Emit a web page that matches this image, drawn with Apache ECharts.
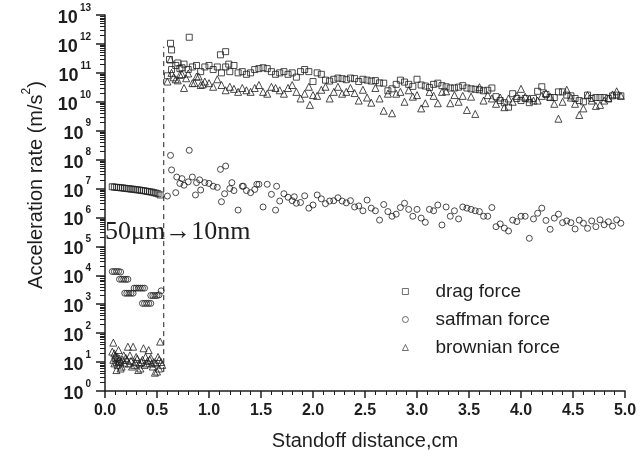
<!DOCTYPE html>
<html>
<head>
<meta charset="utf-8">
<script src="https://cdn.jsdelivr.net/npm/echarts@6/dist/echarts.min.js"></script>
<style>
html,body{margin:0;padding:0;background:#fff;}
#chart{width:644px;height:457px;}
</style>
</head>
<body>
<div id="chart"></div>
<script>
// standoff distance (cm) for the run after the size change
var rightX = [
  0.60,0.64,0.68,0.72,0.76,0.80,0.84,0.88,0.92,0.96,
  1.00,1.04,1.08,1.12,1.16,1.20,1.24,1.28,1.32,1.36,
  1.40,1.44,1.48,1.52,1.56,1.60,1.64,1.68,1.72,1.76,
  1.80,1.84,1.88,1.92,1.96,2.00,2.04,2.08,2.12,2.16,
  2.20,2.24,2.28,2.32,2.36,2.40,2.44,2.48,2.52,2.56,
  2.60,2.64,2.68,2.72,2.76,2.80,2.84,2.88,2.92,2.96,
  3.00,3.04,3.08,3.12,3.16,3.20,3.24,3.28,3.32,3.36,
  3.40,3.44,3.48,3.52,3.56,3.60,3.64,3.68,3.72,3.76,
  3.80,3.84,3.88,3.92,3.96,4.00,4.04,4.08,4.12,4.16,
  4.20,4.24,4.28,4.32,4.36,4.40,4.44,4.48,4.52,4.56,
  4.60,4.64,4.68,4.72,4.76,4.80,4.84,4.88,4.92,4.96
];
var dragRight = [
  7.9e10,1.3e11,1.8e11,1.4e11,2.0e11,1.3e11,1.6e11,1.8e11,1.1e11,1.6e11,
  1.8e11,1.3e11,1.6e11,1.0e11,1.6e11,1.1e11,1.8e11,1.0e11,1.1e11,8.9e10,
  1.0e11,1.3e11,1.4e11,1.5e11,1.4e11,1.1e11,8.9e10,1.0e11,1.1e11,8.9e10,
  1.0e11,7.1e10,1.1e11,1.3e11,1.1e11,5.0e10,1.0e11,8.9e10,5.6e10,5.2e10,
  6.0e10,6.6e10,6.3e10,5.8e10,6.6e10,6.3e10,5.0e10,6.0e10,5.6e10,5.2e10,
  5.4e10,4.5e10,4.4e10,2.4e10,2.8e10,4.0e10,5.6e10,4.8e10,4.0e10,3.4e10,
  6.0e10,3.8e10,3.5e10,3.1e10,4.0e10,4.4e10,3.6e10,3.3e10,3.0e10,3.0e10,
  3.2e10,3.6e10,3.0e10,2.8e10,2.7e10,2.6e10,2.4e10,2.5e10,3.0e10,1.5e10,
  1.1e10,9.3e9,6.5e9,1.9e10,1.3e10,1.1e10,1.3e10,9.3e9,1.3e10,2.3e10,
  3.3e10,1.8e10,1.4e10,1.4e10,2.2e10,2.2e10,1.7e10,1.6e10,1.3e10,1.1e10,
  1.0e10,1.7e10,1.3e10,1.4e10,1.4e10,1.4e10,1.3e10,1.6e10,1.7e10,1.6e10
];
var saffmanRight = [
  5.5e6,4.4e7,7.2e6,1.5e7,1.3e7,1.7e7,2.5e7,1.6e7,8.9e6,1.6e7,
  1.5e7,1.2e7,1.1e7,3.5e6,6.0e7,1.0e7,8.5e6,1.8e6,1.2e7,8.5e6,
  7.2e6,9.3e6,1.4e7,2.3e6,1.4e7,6.3e6,1.8e6,3.7e6,6.6e6,5.0e6,
  3.8e6,3.1e6,3.3e6,5.6e6,2.1e6,2.7e6,6.0e6,4.4e6,3.0e6,3.7e6,
  3.8e6,4.8e6,3.7e6,3.2e6,3.8e6,2.3e6,2.5e6,1.7e6,4.0e6,2.1e6,
  1.7e6,8.1e5,2.8e6,1.6e6,1.1e6,1.3e6,2.2e6,3.1e6,1.9e6,1.1e6,
  1.9e6,9.5e5,6.8e5,1.9e6,1.7e6,2.7e6,5.5e5,2.3e6,1.1e6,1.7e6,
  8.9e5,2.3e6,2.1e6,1.9e6,1.7e6,1.6e6,1.1e6,1.1e6,2.2e6,4.8e5,
  6.0e5,4.3e5,3.4e5,8.1e5,7.2e5,1.1e6,1.1e6,1.9e5,8.9e5,1.4e6,
  2.1e6,7.9e5,3.9e5,9.5e5,1.3e6,6.6e5,7.6e5,6.6e5,4.0e5,8.1e5,
  6.3e5,4.2e5,7.6e5,4.8e5,8.3e5,5.6e5,7.1e5,5.0e5,8.3e5,6.3e5
];
var brownianRight = [
  5.0e10,1.0e11,6.0e10,8.5e10,3.0e10,9.5e10,4.4e10,7.4e10,3.8e10,5.0e10,
  4.4e10,3.3e10,6.0e10,3.8e10,2.5e10,3.3e10,2.8e10,2.2e10,3.0e10,2.5e10,
  2.2e10,3.0e10,3.8e10,2.2e10,1.9e10,3.3e10,3.0e10,2.5e10,1.9e10,3.0e10,
  3.8e10,2.2e10,1.3e10,1.9e10,3.3e10,1.7e10,1.6e10,2.6e10,3.3e10,1.3e10,
  2.2e10,3.3e10,1.9e10,2.2e10,3.0e10,2.0e10,1.1e10,2.6e10,1.4e10,9.3e9,
  3.0e10,1.3e10,4.9e9,1.9e10,4.0e9,1.9e10,2.2e10,1.0e10,2.5e10,1.5e10,
  1.7e10,5.9e9,8.9e9,2.2e10,1.6e10,8.9e9,2.2e10,2.3e10,8.9e9,1.7e10,
  1.0e10,1.6e10,5.2e9,1.5e10,3.8e9,3.2e10,1.1e10,1.7e10,1.3e10,8.5e9,
  1.4e10,6.5e9,1.3e10,1.0e10,1.6e10,2.8e10,1.5e10,1.3e10,1.1e10,1.1e10,
  1.6e10,2.0e10,1.5e10,8.5e9,2.6e9,1.0e10,2.6e10,1.4e10,8.5e9,3.5e9,
  5.9e9,1.7e10,1.1e10,7.2e9,7.8e9,1.1e10,1.3e10,1.8e10,2.3e10,1.6e10
];
// scattered points just after the dashed line
var dragExtra = [[0.63,1.05e12],[0.64,6.2e11],[0.62,2.9e11],[0.81,1.7e12],[1.11,4.2e11],[1.16,5.4e11],[1.19,2.0e11],[0.70,2.2e11],[0.74,1.5e11]];
var saffmanExtra = [[0.63,1.4e8],[0.81,2.1e8],[1.11,4.6e7],[0.69,2.5e7],[0.74,2.2e7],[0.87,6.0e6],[0.91,2.0e7],[1.15,6.6e6],[1.22,1.6e7],[1.33,1.2e7],[1.46,1.4e7],[1.65,1.2e7],[1.82,5.2e6]];
var brownianExtra = [[0.63,2.9e11],[0.66,7.0e10],[0.70,5.5e10],[0.74,9.0e10],[0.78,6.5e10],[0.86,4.5e10],[0.90,7.5e10],[0.94,4.0e10],[1.97,7.8e9]];
// 50 um particles, before the dashed line
var dragLeft = [[0.07,1.15e7],[0.09,1.12e7],[0.11,1.10e7],[0.13,1.09e7],[0.15,1.06e7],[0.17,1.05e7],[0.19,1.02e7],[0.21,1.0e7],[0.23,9.8e6],[0.25,9.6e6],[0.27,9.5e6],[0.29,9.2e6],[0.31,9.0e6],[0.33,8.9e6],[0.35,8.6e6],[0.37,8.4e6],[0.39,8.2e6],[0.41,7.9e6],[0.43,7.7e6],[0.45,7.5e6],[0.47,7.2e6],[0.49,6.9e6],[0.51,6.6e6],[0.53,6.0e6]];
var saffmanLeft = [
  [0.07,1.35e4],[0.09,1.35e4],[0.11,1.35e4],[0.13,1.35e4],[0.15,1.3e4],
  [0.14,7.3e3],[0.16,7.3e3],[0.18,7.3e3],[0.20,7.2e3],[0.22,7.3e3],
  [0.19,2.4e3],[0.21,2.4e3],[0.23,2.4e3],[0.25,2.4e3],[0.27,2.4e3],
  [0.28,3.6e3],[0.30,3.6e3],[0.32,3.6e3],[0.34,3.6e3],[0.36,3.6e3],[0.38,3.6e3],
  [0.36,1.07e3],[0.38,1.07e3],[0.40,1.07e3],[0.42,1.07e3],[0.44,1.07e3],
  [0.44,2.0e3],[0.46,2.0e3],[0.48,2.0e3],[0.50,2.0e3],[0.52,2.1e3],
  [0.54,2.9e3]
];
var brownianLeft = [
  [0.08,47],[0.07,23],[0.10,17],[0.11,10],[0.11,5.3],[0.13,26],[0.14,13],[0.16,7],[0.18,17],[0.19,9],
  [0.21,12],[0.22,34],[0.24,17],[0.26,7],[0.27,34],[0.29,10],[0.30,15],[0.32,5.3],[0.34,6],[0.35,10],
  [0.37,30],[0.39,15],[0.40,9],[0.42,26],[0.43,12],[0.45,9],[0.47,10],[0.48,4.3],[0.50,4.7],[0.51,15],
  [0.53,51],[0.54,10],[0.08,12],[0.09,9],[0.10,14],[0.12,8],[0.13,11],[0.15,10],[0.17,12],[0.20,14],
  [0.23,9],[0.25,11],[0.28,8],[0.31,13],[0.33,9],[0.36,12],[0.38,8],[0.41,11],[0.44,14],[0.46,7],
  [0.49,9],[0.52,12],[0.55,8],[0.09,20],[0.12,15],[0.15,6],[0.52,6]
];
var dashLine = [[0.565,4.5],[0.565,8e11]];
var legendNames = ['drag force','saffman force','brownian force'];

var ink = '#1e1e1e';
var sans = '"Liberation Sans", Arial, sans-serif';

function pairs(xs, ys){
  var out = [];
  for (var i = 0; i < xs.length; i++) out.push([xs[i], ys[i]]);
  return out;
}
function dots(name, symbol, size, data){
  return {
    name: name, type: 'scatter', symbol: symbol, symbolSize: size, data: data,
    itemStyle: {color: 'rgba(255,255,255,0)', borderColor: ink, borderWidth: 1},
    emphasis: {disabled: true}
  };
}

var chart = echarts.init(document.getElementById('chart'), null, {renderer: 'canvas'});
chart.setOption({
  animation: false,
  backgroundColor: '#fff',
  grid: {left: 105, right: 19, top: 15, bottom: 66},
  legend: {
    data: legendNames, orient: 'vertical', left: 397, top: 277,
    itemWidth: 6, itemHeight: 6, itemGap: 9,
    itemStyle: {borderWidth: 0.8},
    textStyle: {fontSize: 19, color: ink, fontFamily: sans, padding: [0,0,0,22]}
  },
  xAxis: {
    type: 'value', min: 0, max: 5, interval: 0.5,
    axisLine: {show: true, onZero: false, lineStyle: {color: ink, width: 1.5}},
    axisTick: {show: true, length: 7, lineStyle: {color: ink, width: 1.5}},
    minorTick: {show: true, splitNumber: 5, length: 4, lineStyle: {color: ink, width: 1}},
    splitLine: {show: false},
    axisLabel: {formatter: function(v){ return v.toFixed(1); }, fontSize: 16, fontWeight: 'bold', color: ink, fontFamily: sans, margin: 12},
    name: 'Standoff distance,cm', nameLocation: 'middle', nameGap: 40,
    nameTextStyle: {fontSize: 20, color: ink, fontFamily: sans}
  },
  yAxis: {
    type: 'log', logBase: 10, min: 1, max: 1e13, interval: 1,
    axisLine: {show: true, lineStyle: {color: ink, width: 1.5}},
    axisTick: {show: true, length: 9, lineStyle: {color: ink, width: 1.5}},
    minorTick: {show: true, splitNumber: 9, length: 5, lineStyle: {color: ink, width: 1}},
    splitLine: {show: false},
    axisLabel: {
      margin: 14, interval: 0, showMinLabel: true, showMaxLabel: true,
      formatter: function(v){ return '{b|10}{s|' + Math.round(Math.log10(v)) + '}'; },
      rich: {
        b: {fontSize: 18, fontWeight: 'bold', color: ink, fontFamily: sans, lineHeight: 24, verticalAlign: 'bottom'},
        s: {fontSize: 10, fontWeight: 'bold', color: ink, fontFamily: sans, lineHeight: 10, verticalAlign: 'top', padding: [0,0,0,2]}
      }
    },
    name: '{a|Acceleration rate (m/s}{s|2}{a|)}', nameLocation: 'middle', nameGap: 58,
    nameTextStyle: {
      padding: [0,0,0,36],
      rich: {
        a: {fontSize: 20, color: ink, fontFamily: sans, lineHeight: 26, verticalAlign: 'bottom'},
        s: {fontSize: 12, color: ink, fontFamily: sans, lineHeight: 12, verticalAlign: 'top'}
      }
    }
  },
  graphic: [{
    type: 'text', left: 105, top: 219,
    style: {text: '50μm→10nm', font: '26px "Liberation Serif", "Times New Roman", serif', fill: ink}
  }],
  series: [
    dots('drag force', 'rect', 6, dragLeft.concat(pairs(rightX, dragRight), dragExtra)),
    dots('saffman force', 'circle', 6, saffmanLeft.concat(pairs(rightX, saffmanRight), saffmanExtra)),
    dots('brownian force', 'triangle', 7, brownianLeft.concat(pairs(rightX, brownianRight), brownianExtra)),
    {
      type: 'line', data: dashLine, symbol: 'none', silent: true,
      lineStyle: {color: ink, width: 1, type: [5,4]}
    }
  ]
});
</script>
</body>
</html>
